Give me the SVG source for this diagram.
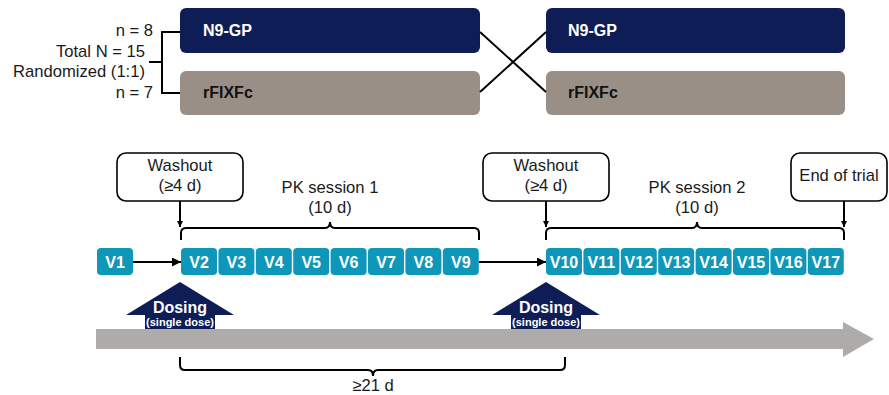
<svg xmlns="http://www.w3.org/2000/svg" width="889" height="395" viewBox="0 0 889 395">
<style>
.t{font-family:"Liberation Sans",Arial,sans-serif;font-size:16.6px;fill:#1a1a1a}
.b{font-family:"Liberation Sans",Arial,sans-serif;font-weight:bold;font-size:16px}
.w{fill:#ffffff}
.k{fill:#111111}
.navy{fill:#0f1d57}
.tan{fill:#9a8f86}
.v{fill:#0f97b9}
.ln{stroke:#000;stroke-width:2;fill:none}
.box{fill:#fff;stroke:#000;stroke-width:1.6}
.sm{font-family:"Liberation Sans",Arial,sans-serif;font-weight:bold;font-size:11px;fill:#fff}
</style>
<defs>
<marker id="ah" viewBox="0 0 10 10" refX="10" refY="5" markerWidth="6" markerHeight="6" markerUnits="userSpaceOnUse" orient="auto">
<path d="M0,0 L10,5 L0,10 z" fill="#000"/>
</marker>
<marker id="ah2" viewBox="0 0 10 10" refX="10" refY="5" markerWidth="9" markerHeight="9" markerUnits="userSpaceOnUse" orient="auto">
<path d="M0,0 L10,5 L0,10 z" fill="#000"/>
</marker>
</defs>

<g id="labels-left">
<text class="t" x="153" y="36" text-anchor="end">n = 8</text>
<text class="t" x="145" y="57" text-anchor="end">Total N = 15</text>
<text class="t" x="145" y="77" text-anchor="end">Randomized (1:1)</text>
<text class="t" x="153" y="98" text-anchor="end">n = 7</text>
</g>

<g id="arm1-n9gp">
<rect class="navy" x="180" y="8" width="300" height="45" rx="6"/>
<text class="b w" x="203" y="36">N9-GP</text>
</g>
<g id="arm1-rfixfc">
<rect class="tan" x="180" y="71" width="300" height="44" rx="6"/>
<text class="b k" x="203" y="98">rFIXFc</text>
</g>
<g id="arm2-n9gp">
<rect class="navy" x="546" y="8" width="299" height="45" rx="6"/>
<text class="b w" x="568" y="36">N9-GP</text>
</g>
<g id="arm2-rfixfc">
<rect class="tan" x="546" y="71" width="299" height="44" rx="6"/>
<text class="b k" x="568" y="98">rFIXFc</text>
</g>

<g id="washout1">
<rect class="box" x="117" y="153" width="126" height="48" rx="9"/>
<text class="t" x="180" y="171" text-anchor="middle">Washout</text>
<text class="t" x="180" y="191" text-anchor="middle">(≥4 d)</text>
</g>
<g id="washout2">
<rect class="box" x="483" y="153" width="126" height="48" rx="9"/>
<text class="t" x="546" y="171" text-anchor="middle">Washout</text>
<text class="t" x="546" y="191" text-anchor="middle">(≥4 d)</text>
</g>
<g id="endtrial">
<rect class="box" x="791" y="153" width="96" height="48" rx="9"/>
<text class="t" x="839" y="181" text-anchor="middle">End of trial</text>
</g>

<g id="pk1">
<text class="t" x="330" y="193" text-anchor="middle">PK session 1</text>
<text class="t" x="330" y="213" text-anchor="middle">(10 d)</text>
</g>
<g id="pk2">
<text class="t" x="697" y="193" text-anchor="middle">PK session 2</text>
<text class="t" x="697" y="213" text-anchor="middle">(10 d)</text>
</g>

<g id="visits">
<rect class="v" x="97" y="248" width="36" height="27" rx="4"/><text class="b w" x="115" y="268" text-anchor="middle">V1</text>
<rect class="v" x="181" y="248" width="36" height="27" rx="4"/><text class="b w" x="199" y="268" text-anchor="middle">V2</text>
<rect class="v" x="218.4" y="248" width="36" height="27" rx="4"/><text class="b w" x="236.4" y="268" text-anchor="middle">V3</text>
<rect class="v" x="255.8" y="248" width="36" height="27" rx="4"/><text class="b w" x="273.8" y="268" text-anchor="middle">V4</text>
<rect class="v" x="293.2" y="248" width="36" height="27" rx="4"/><text class="b w" x="311.2" y="268" text-anchor="middle">V5</text>
<rect class="v" x="330.6" y="248" width="36" height="27" rx="4"/><text class="b w" x="348.6" y="268" text-anchor="middle">V6</text>
<rect class="v" x="368" y="248" width="36" height="27" rx="4"/><text class="b w" x="386" y="268" text-anchor="middle">V7</text>
<rect class="v" x="405.4" y="248" width="36" height="27" rx="4"/><text class="b w" x="423.4" y="268" text-anchor="middle">V8</text>
<rect class="v" x="442.8" y="248" width="36" height="27" rx="4"/><text class="b w" x="460.8" y="268" text-anchor="middle">V9</text>
<rect class="v" x="546" y="248" width="36" height="27" rx="4"/><text class="b w" x="564" y="268" text-anchor="middle">V10</text>
<rect class="v" x="583.4" y="248" width="36" height="27" rx="4"/><text class="b w" x="601.4" y="268" text-anchor="middle">V11</text>
<rect class="v" x="620.8" y="248" width="36" height="27" rx="4"/><text class="b w" x="638.8" y="268" text-anchor="middle">V12</text>
<rect class="v" x="658.2" y="248" width="36" height="27" rx="4"/><text class="b w" x="676.2" y="268" text-anchor="middle">V13</text>
<rect class="v" x="695.6" y="248" width="36" height="27" rx="4"/><text class="b w" x="713.6" y="268" text-anchor="middle">V14</text>
<rect class="v" x="733" y="248" width="36" height="27" rx="4"/><text class="b w" x="751" y="268" text-anchor="middle">V15</text>
<rect class="v" x="770.4" y="248" width="36" height="27" rx="4"/><text class="b w" x="788.4" y="268" text-anchor="middle">V16</text>
<rect class="v" x="807.8" y="248" width="36" height="27" rx="4"/><text class="b w" x="825.8" y="268" text-anchor="middle">V17</text>
</g>

<g id="timeline">
<path d="M96,329 H843 V322 L874,339 L843,357 V349 H96 Z" fill="#adacaa"/>
</g>

<g id="dosing1">
<path d="M180,282 L234,315 H215 V329 H145 V315 H126 Z" fill="#0f1d57"/>
<text class="b w" x="180" y="313" text-anchor="middle">Dosing</text>
<text class="sm" x="180" y="325.5" text-anchor="middle">(single dose)</text>
</g>
<g id="dosing2">
<path d="M546,282 L600,315 H581 V329 H511 V315 H492 Z" fill="#0f1d57"/>
<text class="b w" x="546" y="313" text-anchor="middle">Dosing</text>
<text class="sm" x="546" y="325.5" text-anchor="middle">(single dose)</text>
</g>

<g id="gap">
<text class="t" x="373" y="391" text-anchor="middle">≥21 d</text>
</g>

<g id="connectors">
<path class="ln" d="M149,62 H162 M180,32 H162 V93 H180"/>
<path class="ln" d="M480,32 L546,92 M480,92 L546,32"/>
<path class="ln" d="M180,201 V227" marker-end="url(#ah)"/>
<path class="ln" d="M546,201 V227" marker-end="url(#ah)"/>
<path class="ln" d="M844,201 V227" marker-end="url(#ah)"/>
<path class="ln" d="M133,262 H181" marker-end="url(#ah2)"/>
<path class="ln" d="M479,262 H546" marker-end="url(#ah2)"/>
<path class="ln" d="M181,240 V233 Q181,228 186,228 H325 Q330,228 330,222 Q330,228 335,228 H474 Q479,228 479,233 V240"/>
<path class="ln" d="M546,240 V233 Q546,228 551,228 H692 Q697,228 697,222 Q697,228 702,228 H839 Q844,228 844,233 V240"/>
<path class="ln" d="M180,357 V365 Q180,370 185,370 H368 Q373,370 373,376 Q373,370 378,370 H560 Q565,370 565,365 V357"/>
</g>
</svg>
